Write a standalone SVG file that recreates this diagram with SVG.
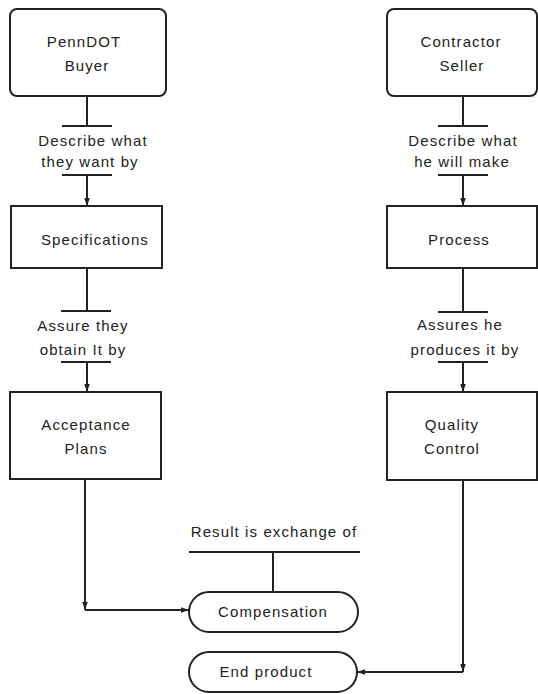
<svg xmlns="http://www.w3.org/2000/svg" width="538" height="694" viewBox="0 0 538 694">
<style>
.box{fill:#fff;stroke:#222;stroke-width:2}
.ln{fill:none;stroke:#222;stroke-width:2}
text{font-family:"Liberation Sans",Arial,sans-serif;font-size:15px;fill:#222;letter-spacing:1.1px;text-anchor:middle}
</style>
<defs>
<marker id="ah" viewBox="0 0 10 10" refX="10" refY="5" markerWidth="8" markerHeight="8" orient="auto" markerUnits="userSpaceOnUse">
<path d="M0,1.5 L10,5 L0,8.5 z" fill="#222"/>
</marker>
</defs>
<rect width="538" height="694" fill="#fff"/>
<g id="buyer"><rect class="box" x="10" y="9" width="156" height="87" rx="7"/><text x="84" y="47">PennDOT</text><text x="87" y="71">Buyer</text></g>
<g id="seller"><rect class="box" x="387" y="9" width="150" height="87" rx="7"/><text x="461" y="47">Contractor</text><text x="462" y="71">Seller</text></g>
<g id="specifications"><rect class="box" x="11" y="206" width="151" height="62"/><text x="95" y="245">Specifications</text></g>
<g id="process"><rect class="box" x="387" y="206" width="150" height="62"/><text x="459" y="245">Process</text></g>
<g id="acceptance"><rect class="box" x="10" y="392" width="151" height="87"/><text x="86" y="430">Acceptance</text><text x="86" y="454">Plans</text></g>
<g id="quality"><rect class="box" x="387" y="392" width="150" height="88"/><text x="452" y="430">Quality</text><text x="452" y="454">Control</text></g>
<g id="compensation"><rect class="box" x="189" y="592" width="169" height="40" rx="20"/><text x="273" y="617">Compensation</text></g>
<g id="endproduct"><rect class="box" x="189" y="652" width="168" height="40" rx="20"/><text x="266" y="677">End  product</text></g>
<g id="labels">
<text x="93" y="146">Describe what</text><text x="90" y="167">they want by</text>
<text x="463" y="146">Describe what</text><text x="462" y="167">he will make</text>
<text x="83" y="331">Assure they</text><text x="83" y="355">obtain  It by</text>
<text x="460" y="330">Assures  he</text><text x="465" y="355">produces it by</text>
<text x="274" y="537">Result is exchange of</text>
</g>
<g id="connectors">
<path class="ln" d="M87,96 V126 M62,126 H112"/>
<path class="ln" d="M62,175 H112"/>
<path class="ln" d="M87,175 V206" marker-end="url(#ah)"/>
<path class="ln" d="M463,96 V126 M438,126 H488"/>
<path class="ln" d="M438,175 H488"/>
<path class="ln" d="M463,175 V206" marker-end="url(#ah)"/>
<path class="ln" d="M87,268 V311 M61,311 H111"/>
<path class="ln" d="M61,362 H111"/>
<path class="ln" d="M87,362 V392" marker-end="url(#ah)"/>
<path class="ln" d="M463,268 V312 M438,312 H488"/>
<path class="ln" d="M438,362 H488"/>
<path class="ln" d="M463,362 V392" marker-end="url(#ah)"/>
<path class="ln" d="M85,479 V610" marker-end="url(#ah)"/>
<path class="ln" d="M85,610 H189" marker-end="url(#ah)"/>
<path class="ln" d="M463,480 V672" marker-end="url(#ah)"/>
<path class="ln" d="M463,672 H357" marker-end="url(#ah)"/>
<path class="ln" d="M189,552 H360 M273,552 V592"/>
</g>
</svg>
